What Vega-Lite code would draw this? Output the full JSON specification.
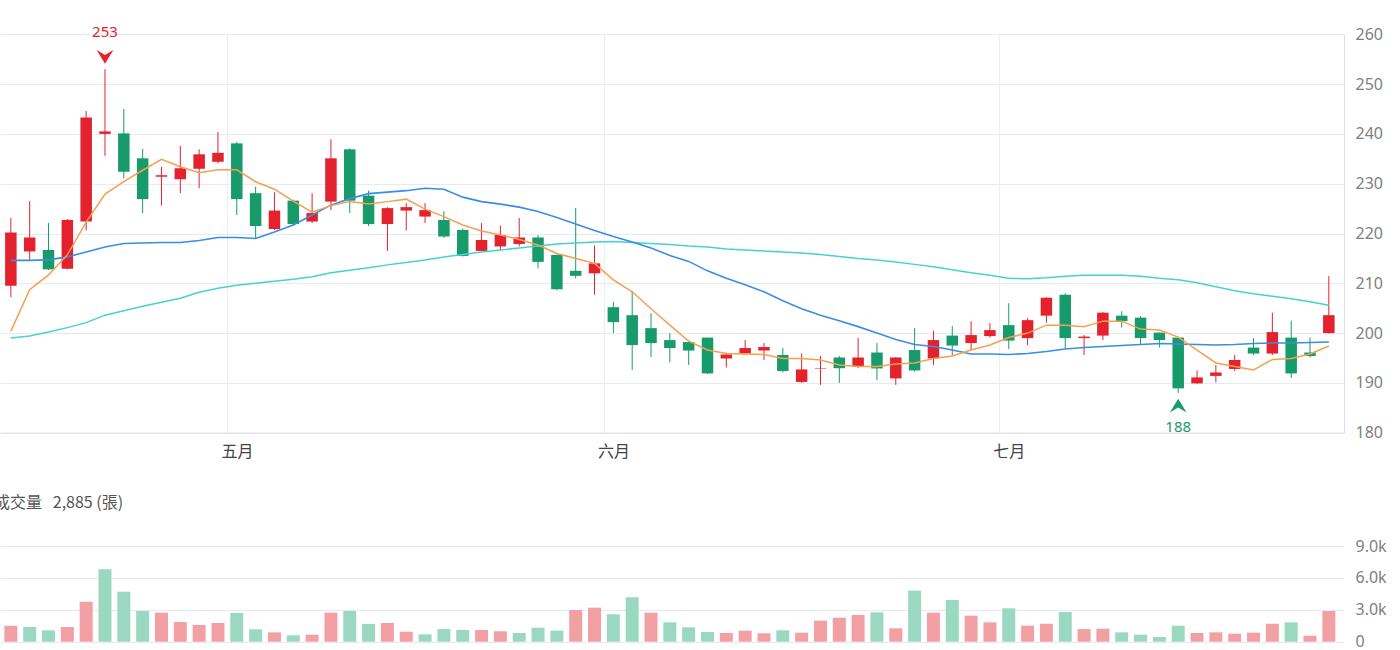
{
  "$schema": "https://vega.github.io/schema/vega-lite/v6.json",
  "width": 1344,
  "height": 650,
  "autosize": {"type": "none"},
  "padding": {"left": 0, "top": 0, "right": 56, "bottom": 0},
  "background": "white",
  "config": {
    "view": {"stroke": null},
    "axis": {"labelFont": "Noto Sans", "labelFontSize": 16, "labelColor": "#808080", "title": null}
  },
  "title": {
    "text": "成交量\u00a0\u00a0\u00a02,885 (張)",
    "orient": "bottom",
    "anchor": "start",
    "offset": -147,
    "dx": -6,
    "baseline": "middle",
    "font": "Noto Sans CJK TC",
    "fontSize": 16,
    "fontWeight": "normal",
    "color": "#555555"
  },
  "data": {
    "values": [
      {"d": "2025-04-15", "o": 209.5, "h": 223.1, "l": 207.2, "c": 220.2, "v": 1510, "ma5": 200.4, "ma20": 214.6, "ma60": 199.0},
      {"d": "2025-04-16", "o": 216.4, "h": 226.5, "l": 214.5, "c": 219.2, "v": 1380, "ma5": 208.7, "ma20": 214.6, "ma60": 199.4},
      {"d": "2025-04-17", "o": 216.7, "h": 222.1, "l": 212.7, "c": 212.8, "v": 1070, "ma5": 211.7, "ma20": 214.7, "ma60": 200.2},
      {"d": "2025-04-18", "o": 212.9, "h": 222.9, "l": 212.8, "c": 222.7, "v": 1380, "ma5": 215.7, "ma20": 215.3, "ma60": 201.1},
      {"d": "2025-04-21", "o": 222.4, "h": 244.6, "l": 220.6, "c": 243.3, "v": 3760, "ma5": 222.3, "ma20": 216.3, "ma60": 202.1},
      {"d": "2025-04-22", "o": 240.0, "h": 253.0, "l": 235.6, "c": 240.5, "v": 6810, "ma5": 227.9, "ma20": 217.3, "ma60": 203.6},
      {"d": "2025-04-23", "o": 240.1, "h": 245.0, "l": 231.1, "c": 232.4, "v": 4700, "ma5": 230.4, "ma20": 218.0, "ma60": 204.5},
      {"d": "2025-04-24", "o": 235.1, "h": 237.0, "l": 224.1, "c": 226.9, "v": 2890, "ma5": 232.7, "ma20": 218.1, "ma60": 205.4},
      {"d": "2025-04-25", "o": 231.4, "h": 233.4, "l": 225.6, "c": 231.7, "v": 2730, "ma5": 234.9, "ma20": 218.2, "ma60": 206.2},
      {"d": "2025-04-28", "o": 230.9, "h": 237.6, "l": 228.1, "c": 233.1, "v": 1850, "ma5": 233.4, "ma20": 218.2, "ma60": 207.0},
      {"d": "2025-04-29", "o": 233.0, "h": 236.9, "l": 229.1, "c": 235.9, "v": 1570, "ma5": 232.2, "ma20": 218.6, "ma60": 208.2},
      {"d": "2025-04-30", "o": 234.4, "h": 240.4, "l": 234.1, "c": 236.2, "v": 1760, "ma5": 232.8, "ma20": 219.2, "ma60": 209.0},
      {"d": "2025-05-02", "o": 238.1, "h": 238.4, "l": 223.7, "c": 226.9, "v": 2700, "ma5": 232.8, "ma20": 219.2, "ma60": 209.6},
      {"d": "2025-05-05", "o": 228.1, "h": 229.4, "l": 219.0, "c": 221.5, "v": 1170, "ma5": 230.4, "ma20": 219.0, "ma60": 210.0},
      {"d": "2025-05-06", "o": 220.9, "h": 228.3, "l": 220.7, "c": 224.6, "v": 880, "ma5": 228.9, "ma20": 220.3, "ma60": 210.4},
      {"d": "2025-05-07", "o": 226.6, "h": 226.8, "l": 221.5, "c": 221.9, "v": 600, "ma5": 226.5, "ma20": 221.7, "ma60": 210.8},
      {"d": "2025-05-08", "o": 222.4, "h": 228.1, "l": 222.1, "c": 224.1, "v": 660, "ma5": 224.3, "ma20": 223.7, "ma60": 211.3},
      {"d": "2025-05-09", "o": 226.4, "h": 238.9, "l": 224.7, "c": 235.1, "v": 2730, "ma5": 225.6, "ma20": 225.7, "ma60": 212.1},
      {"d": "2025-05-12", "o": 236.9, "h": 237.1, "l": 224.1, "c": 226.6, "v": 2890, "ma5": 226.4, "ma20": 227.0, "ma60": 212.6},
      {"d": "2025-05-13", "o": 227.6, "h": 228.6, "l": 221.5, "c": 221.9, "v": 1670, "ma5": 225.9, "ma20": 228.0, "ma60": 213.1},
      {"d": "2025-05-14", "o": 221.9, "h": 225.3, "l": 216.5, "c": 225.1, "v": 1760, "ma5": 226.4, "ma20": 228.3, "ma60": 213.7},
      {"d": "2025-05-15", "o": 224.6, "h": 226.1, "l": 220.6, "c": 225.3, "v": 940, "ma5": 226.9, "ma20": 228.6, "ma60": 214.2},
      {"d": "2025-05-16", "o": 223.4, "h": 226.1, "l": 222.1, "c": 224.7, "v": 690, "ma5": 224.9, "ma20": 229.1, "ma60": 214.7},
      {"d": "2025-05-19", "o": 222.7, "h": 224.5, "l": 219.1, "c": 219.4, "v": 1190, "ma5": 223.4, "ma20": 228.9, "ma60": 215.3},
      {"d": "2025-05-20", "o": 220.7, "h": 221.0, "l": 215.4, "c": 215.5, "v": 1100, "ma5": 221.7, "ma20": 227.3, "ma60": 215.8},
      {"d": "2025-05-21", "o": 216.5, "h": 222.1, "l": 216.4, "c": 218.7, "v": 1100, "ma5": 220.5, "ma20": 226.4, "ma60": 216.3},
      {"d": "2025-05-22", "o": 217.4, "h": 221.6, "l": 216.6, "c": 219.7, "v": 980, "ma5": 219.7, "ma20": 225.9, "ma60": 216.7},
      {"d": "2025-05-23", "o": 217.9, "h": 223.1, "l": 217.4, "c": 219.2, "v": 820, "ma5": 218.8, "ma20": 225.3, "ma60": 217.1},
      {"d": "2025-05-26", "o": 219.2, "h": 219.7, "l": 213.0, "c": 214.3, "v": 1320, "ma5": 217.7, "ma20": 224.4, "ma60": 217.5},
      {"d": "2025-05-27", "o": 215.7, "h": 215.8, "l": 208.6, "c": 208.8, "v": 1040, "ma5": 216.0, "ma20": 223.2, "ma60": 217.9},
      {"d": "2025-05-28", "o": 212.5, "h": 225.1, "l": 211.0, "c": 211.5, "v": 2980, "ma5": 215.0, "ma20": 221.9, "ma60": 218.1},
      {"d": "2025-05-29", "o": 212.0, "h": 217.6, "l": 207.7, "c": 214.0, "v": 3200, "ma5": 214.0, "ma20": 220.6, "ma60": 218.3},
      {"d": "2025-06-02", "o": 205.2, "h": 206.3, "l": 200.0, "c": 202.2, "v": 2580, "ma5": 210.7, "ma20": 219.4, "ma60": 218.4},
      {"d": "2025-06-03", "o": 203.6, "h": 208.5, "l": 192.6, "c": 197.6, "v": 4180, "ma5": 208.3, "ma20": 218.3, "ma60": 218.2},
      {"d": "2025-06-04", "o": 201.0, "h": 204.0, "l": 195.2, "c": 198.0, "v": 2730, "ma5": 204.9, "ma20": 217.1, "ma60": 218.0},
      {"d": "2025-06-05", "o": 198.6, "h": 200.0, "l": 194.1, "c": 197.0, "v": 1820, "ma5": 201.6, "ma20": 215.6, "ma60": 217.8},
      {"d": "2025-06-06", "o": 198.2, "h": 198.3, "l": 193.6, "c": 196.5, "v": 1350, "ma5": 198.4, "ma20": 214.4, "ma60": 217.5},
      {"d": "2025-06-09", "o": 199.1, "h": 199.1, "l": 191.8, "c": 191.9, "v": 910, "ma5": 196.6, "ma20": 212.5, "ma60": 217.3},
      {"d": "2025-06-10", "o": 194.9, "h": 196.1, "l": 193.1, "c": 195.7, "v": 820, "ma5": 195.9, "ma20": 211.0, "ma60": 216.9},
      {"d": "2025-06-11", "o": 195.9, "h": 198.6, "l": 195.8, "c": 197.0, "v": 1040, "ma5": 195.8, "ma20": 209.7, "ma60": 216.7},
      {"d": "2025-06-12", "o": 196.5, "h": 198.0, "l": 194.6, "c": 197.2, "v": 790, "ma5": 195.7, "ma20": 208.3, "ma60": 216.5},
      {"d": "2025-06-13", "o": 195.6, "h": 197.0, "l": 192.1, "c": 192.4, "v": 1070, "ma5": 194.9, "ma20": 206.5, "ma60": 216.3},
      {"d": "2025-06-16", "o": 190.2, "h": 195.9, "l": 190.0, "c": 192.7, "v": 850, "ma5": 194.9, "ma20": 204.9, "ma60": 216.1},
      {"d": "2025-06-17", "o": 192.8, "h": 195.4, "l": 189.6, "c": 192.9, "v": 1980, "ma5": 194.6, "ma20": 203.6, "ma60": 215.8},
      {"d": "2025-06-18", "o": 195.1, "h": 195.4, "l": 190.0, "c": 192.95, "v": 2260, "ma5": 193.6, "ma20": 202.5, "ma60": 215.4},
      {"d": "2025-06-19", "o": 193.3, "h": 199.0, "l": 193.0, "c": 195.1, "v": 2510, "ma5": 193.3, "ma20": 201.3, "ma60": 215.0},
      {"d": "2025-06-20", "o": 196.1, "h": 198.0, "l": 190.6, "c": 192.9, "v": 2760, "ma5": 193.3, "ma20": 200.0, "ma60": 214.7},
      {"d": "2025-06-23", "o": 190.9, "h": 195.2, "l": 189.6, "c": 195.1, "v": 1260, "ma5": 193.8, "ma20": 198.7, "ma60": 214.3},
      {"d": "2025-06-24", "o": 196.6, "h": 201.0, "l": 192.3, "c": 192.5, "v": 4800, "ma5": 194.0, "ma20": 197.7, "ma60": 213.8},
      {"d": "2025-06-25", "o": 194.9, "h": 200.5, "l": 193.6, "c": 198.6, "v": 2730, "ma5": 194.9, "ma20": 197.3, "ma60": 213.3},
      {"d": "2025-06-26", "o": 199.5, "h": 201.4, "l": 195.6, "c": 197.5, "v": 3920, "ma5": 195.4, "ma20": 196.6, "ma60": 212.7},
      {"d": "2025-06-27", "o": 198.0, "h": 202.4, "l": 196.6, "c": 199.6, "v": 2450, "ma5": 196.6, "ma20": 195.8, "ma60": 212.1},
      {"d": "2025-06-30", "o": 199.4, "h": 202.0, "l": 199.1, "c": 200.6, "v": 1820, "ma5": 197.6, "ma20": 195.8, "ma60": 211.6},
      {"d": "2025-07-01", "o": 201.6, "h": 206.0, "l": 196.8, "c": 198.5, "v": 3140, "ma5": 199.1, "ma20": 195.7, "ma60": 211.0},
      {"d": "2025-07-02", "o": 199.0, "h": 203.0, "l": 197.6, "c": 202.6, "v": 1510, "ma5": 200.0, "ma20": 195.9, "ma60": 210.9},
      {"d": "2025-07-03", "o": 203.5, "h": 207.2, "l": 202.1, "c": 207.1, "v": 1690, "ma5": 201.6, "ma20": 196.3, "ma60": 211.1},
      {"d": "2025-07-04", "o": 207.7, "h": 208.0, "l": 196.8, "c": 199.0, "v": 2790, "ma5": 201.6, "ma20": 196.8, "ma60": 211.4},
      {"d": "2025-07-07", "o": 199.0, "h": 199.6, "l": 195.6, "c": 199.3, "v": 1190, "ma5": 201.3, "ma20": 197.1, "ma60": 211.6},
      {"d": "2025-07-08", "o": 199.5, "h": 204.2, "l": 198.6, "c": 204.1, "v": 1220, "ma5": 202.4, "ma20": 197.3, "ma60": 211.6},
      {"d": "2025-07-09", "o": 203.5, "h": 204.4, "l": 201.1, "c": 202.4, "v": 880, "ma5": 202.4, "ma20": 197.5, "ma60": 211.6},
      {"d": "2025-07-10", "o": 203.1, "h": 203.4, "l": 197.6, "c": 199.0, "v": 660, "ma5": 200.8, "ma20": 197.7, "ma60": 211.4},
      {"d": "2025-07-11", "o": 200.1, "h": 200.1, "l": 197.1, "c": 198.6, "v": 440, "ma5": 200.6, "ma20": 197.9, "ma60": 211.0},
      {"d": "2025-07-14", "o": 199.1, "h": 199.1, "l": 188.0, "c": 188.9, "v": 1510, "ma5": 199.2, "ma20": 197.8, "ma60": 210.7},
      {"d": "2025-07-15", "o": 189.9, "h": 192.5, "l": 189.8, "c": 191.1, "v": 820, "ma5": 196.6, "ma20": 197.7, "ma60": 210.1},
      {"d": "2025-07-16", "o": 191.4, "h": 193.6, "l": 190.1, "c": 192.1, "v": 880, "ma5": 194.0, "ma20": 197.6, "ma60": 209.3},
      {"d": "2025-07-17", "o": 192.8, "h": 195.6, "l": 192.4, "c": 194.6, "v": 750, "ma5": 193.3, "ma20": 197.7, "ma60": 208.5},
      {"d": "2025-07-18", "o": 197.1, "h": 199.0, "l": 195.6, "c": 195.9, "v": 850, "ma5": 192.6, "ma20": 197.9, "ma60": 207.9},
      {"d": "2025-07-21", "o": 195.9, "h": 204.1, "l": 195.6, "c": 200.2, "v": 1690, "ma5": 194.7, "ma20": 198.0, "ma60": 207.4},
      {"d": "2025-07-22", "o": 199.1, "h": 202.5, "l": 191.0, "c": 191.9, "v": 1820, "ma5": 194.9, "ma20": 198.0, "ma60": 206.9},
      {"d": "2025-07-23", "o": 196.1, "h": 199.1, "l": 195.1, "c": 195.4, "v": 560, "ma5": 195.8, "ma20": 198.1, "ma60": 206.3},
      {"d": "2025-07-24", "o": 200.0, "h": 211.5, "l": 199.9, "c": 203.6, "v": 2885, "ma5": 197.4, "ma20": 198.2, "ma60": 205.6}
    ]
  },
  "transform": [
    {
      "window": [
        {"op": "row_number", "as": "n"},
        {"op": "lag", "field": "c", "as": "pc"}
      ],
      "sort": [{"field": "d", "order": "ascending"}]
    }
  ],
  "encoding": {
    "x": {
      "field": "n",
      "type": "quantitative",
      "scale": {"domain": [0.689, 71.54], "nice": false, "zero": false},
      "axis": {
        "values": [12.5, 32.5, 53.5],
        "labelExpr": "datum.value < 20 ? '五月' : datum.value < 40 ? '六月' : '七月'",
        "labelOffset": 9.5,
        "labelFont": "Noto Sans CJK TC",
        "labelFontSize": 16,
        "labelColor": "#444444",
        "labelPadding": 409.5,
        "labelFlush": false,
        "labelOverlap": false,
        "offset": -217.3,
        "grid": false,
        "tickSize": -398.4,
        "tickColor": "#eceef5",
        "tickWidth": 1,
        "domainColor": "#d9dce6",
        "title": null
      }
    }
  },
  "layer": [
    {
      "layer": [
        {
          "mark": {"type": "rule", "strokeWidth": 1},
          "encoding": {
            "y": {
              "field": "l",
              "type": "quantitative",
              "scale": {"domain": [180, 260], "range": [432.7, 34.3], "zero": false, "nice": false},
              "axis": {
                "orient": "right",
                "values": [180, 190, 200, 210, 220, 230, 240, 250, 260],
                "grid": true,
                "gridColor": "#e7eaf2",
                "domain": true,
                "domainColor": "#dde0e9",
                "ticks": false,
                "labelPadding": 11,
                "title": null
              }
            },
            "y2": {"field": "h"},
            "color": {"condition": {"test": "datum.c >= datum.o", "value": "#e3222e"}, "value": "#189b6b"}
          }
        },
        {
          "mark": {"type": "bar", "width": 11.5},
          "encoding": {
            "y": {"field": "o", "type": "quantitative"},
            "y2": {"field": "c"},
            "color": {"condition": {"test": "datum.c >= datum.o", "value": "#e3222e"}, "value": "#189b6b"}
          }
        },
        {
          "mark": {"type": "line", "color": "#45d3d1", "strokeWidth": 1.5},
          "encoding": {"y": {"field": "ma60", "type": "quantitative"}}
        },
        {
          "mark": {"type": "line", "color": "#3a8de3", "strokeWidth": 1.6},
          "encoding": {"y": {"field": "ma20", "type": "quantitative"}}
        },
        {
          "mark": {"type": "line", "color": "#f4a050", "strokeWidth": 1.5},
          "encoding": {"y": {"field": "ma5", "type": "quantitative"}}
        },
        {
          "transform": [
            {"joinaggregate": [{"op": "max", "field": "h", "as": "hmax"}]},
            {"filter": "datum.h == datum.hmax"}
          ],
          "layer": [
            {
              "mark": {"type": "point", "shape": "M-1,-0.82L0,-0.22L1,-0.82L0,0.82Z", "size": 280, "filled": true, "opacity": 1, "color": "#e3222e", "yOffset": -12.3},
              "encoding": {"y": {"field": "h", "type": "quantitative"}}
            },
            {
              "mark": {"type": "text", "color": "#e3222e", "font": "Noto Sans", "fontSize": 15, "dy": -37, "baseline": "middle"},
              "encoding": {
                "y": {"field": "h", "type": "quantitative"},
                "text": {"field": "h", "type": "quantitative", "format": "d"}
              }
            }
          ]
        },
        {
          "transform": [
            {"joinaggregate": [{"op": "min", "field": "l", "as": "lmin"}]},
            {"filter": "datum.l == datum.lmin"}
          ],
          "layer": [
            {
              "mark": {"type": "point", "shape": "M-1,0.82L0,0.22L1,0.82L0,-0.82Z", "size": 280, "filled": true, "opacity": 1, "color": "#189b6b", "yOffset": 12.7},
              "encoding": {"y": {"field": "l", "type": "quantitative"}}
            },
            {
              "mark": {"type": "text", "color": "#189b6b", "font": "Noto Sans", "fontSize": 15, "dy": 34, "baseline": "middle"},
              "encoding": {
                "y": {"field": "l", "type": "quantitative"},
                "text": {"field": "l", "type": "quantitative", "format": "d"}
              }
            }
          ]
        }
      ]
    },
    {
      "mark": {"type": "bar", "width": 13},
      "encoding": {
        "y": {
          "field": "v",
          "type": "quantitative",
          "scale": {"domain": [0, 9000], "range": [641.7, 546], "nice": false},
          "axis": {
            "orient": "right",
            "values": [0, 3000, 6000, 9000],
            "labelExpr": "datum.value == 0 ? '0' : format(datum.value / 1000, '.1f') + 'k'",
            "grid": true,
            "gridColor": "#e7eaf2",
            "domain": false,
            "ticks": false,
            "labelPadding": 11,
            "title": null
          }
        },
        "color": {"condition": {"test": "datum.pc == null || datum.c >= datum.pc", "value": "#f3a0a5"}, "value": "#9bd8c2"}
      }
    }
  ],
  "resolve": {"scale": {"y": "independent"}, "axis": {"y": "independent"}}
}
